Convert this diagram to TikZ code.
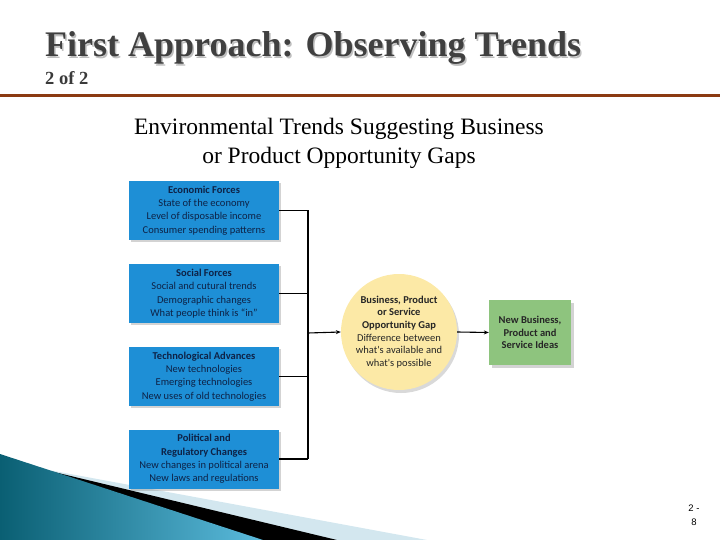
\documentclass[tikz,border=0pt]{standalone}
\usepackage{fontspec}
\setmainfont{Liberation Serif}
\newfontfamily\boxfont{Carlito}
\newfontfamily\numfont{Liberation Sans}
\usetikzlibrary{shadows,arrows.meta}
\definecolor{titlegray}{HTML}{404040}
\definecolor{rust}{HTML}{8B3A12}
\definecolor{boxblue}{HTML}{1E8FD6}
\definecolor{navytext}{HTML}{0E2246}
\definecolor{gapyellow}{HTML}{FCE9A6}
\definecolor{ideagreen}{HTML}{8EC47E}
\definecolor{tealdark}{HTML}{0A5F73}
\definecolor{teallight}{HTML}{5BBBDD}
\definecolor{paleblue}{HTML}{D3E7EF}
\tikzset{
  forcebox/.style={fill=boxblue, text=navytext, minimum width=150pt, minimum height=59pt,
    inner sep=2pt, align=center, font=\boxfont\fontsize{10.5}{13.4}\selectfont,
    drop shadow={shadow xshift=2pt, shadow yshift=-2pt, opacity=0.35, fill=gray}},
  gapnode/.style={circle, fill=gapyellow, text=black!85, minimum size=116pt, inner sep=0pt,
    align=center, font=\boxfont\fontsize{10.5}{12.6}\selectfont,
    drop shadow={shadow xshift=2pt, shadow yshift=-3pt, opacity=0.3, fill=gray}},
  ideabox/.style={fill=ideagreen, text=black!85, minimum width=82pt, minimum height=65pt,
    inner sep=2pt, align=center, font=\boxfont\bfseries\fontsize{10.5}{12.6}\selectfont,
    drop shadow={shadow xshift=3pt, shadow yshift=-3pt, opacity=0.35, fill=gray}},
  conn/.style={line width=1.1pt, black},
  arr/.style={conn, -{Stealth[length=5pt,width=4pt]}},
  headtext/.style={inner sep=0pt, font=\fontsize{23.5}{29}\selectfont, anchor=base}
}
\begin{document}
\begin{tikzpicture}[x=1pt,y=-1pt]
\useasboundingbox (0,0) rectangle (720,540);
% bottom-left decoration
\fill[paleblue] (0,461) -- (427,540) -- (0,540) -- cycle;
\fill[black] (0,459) -- (337,540) -- (0,540) -- cycle;
\shade[shading angle=60, left color=tealdark, right color=teallight] (0,454) -- (263,540) -- (0,540) -- cycle;
% title
\node[anchor=base west, inner sep=0pt, text=black!25, font=\bfseries\fontsize{36}{40}\selectfont] at (46.5,58.5) {First Approach: Observing Trends};
\node (title) [anchor=base west, inner sep=0pt, text=titlegray, font=\bfseries\fontsize{36}{40}\selectfont] at (45,57) {First Approach: Observing Trends};
\node (sub) [anchor=base west, inner sep=0pt, text=titlegray!90!black, font=\bfseries\fontsize{18.5}{20}\selectfont] at (45,85) {2 of 2};
\draw[rust, line width=3pt] (0,96) -- (720,96);
% heading
\node (head1) [headtext] at (339,135) {Environmental Trends Suggesting Business};
\node (head2) [headtext] at (339,164) {or Product Opportunity Gaps};
% boxes
\node (b1) [forcebox] at (204,210.5) {\textbf{Economic Forces}\\State of the economy\\Level of disposable income\\Consumer spending patterns};
\node (b2) [forcebox] at (204,293.5) {\textbf{Social Forces}\\Social and cutural trends\\Demographic changes\\What people think is “in”};
\node (b3) [forcebox] at (204,376.5) {\textbf{Technological Advances}\\New technologies\\Emerging technologies\\New uses of old technologies};
\node (b4) [forcebox] at (204,459) {\textbf{Political and}\\\textbf{Regulatory Changes}\\New changes in political arena\\New laws and regulations};
\node (gap) [gapnode] at (399,332) {\textbf{Business, Product}\\\textbf{or Service}\\\textbf{Opportunity Gap}\\Difference between\\what's available and\\what's possible};
\node (idea) [ideabox] at (530,332.5) {New Business,\\Product and\\Service Ideas};
% connectors
\coordinate (j) at (308,333);
\draw[conn] (b1.east) -- (b1.east -| j);
\draw[conn] (b2.east) -- (b2.east -| j);
\draw[conn] (b3.east) -- (b3.east -| j);
\draw[conn] (b4.east) -- (b4.east -| j);
\draw[conn] (b1.east -| j) -- (b4.east -| j);
\draw[arr] (j) -- (gap.west);
\draw[arr] (gap.east) -- (idea.west);
% page number
\node (pg) [align=center, inner sep=0pt, font=\numfont\fontsize{9.5}{14}\selectfont] at (694,515) {2 -\\8};
\end{tikzpicture}
\end{document}
